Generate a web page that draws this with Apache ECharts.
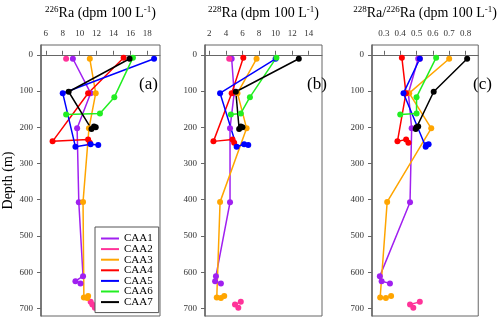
<!DOCTYPE html>
<html>
<head>
<meta charset="utf-8">
<script src="https://cdn.jsdelivr.net/npm/echarts@6/dist/echarts.min.js"></script>
<style>
  html, body { margin: 0; padding: 0; background: #fff; }
  #main { width: 500px; height: 323px; }
</style>
</head>
<body>
<div id="main"></div>
<script>
// stations and colours
var stations = ['CAA1', 'CAA2', 'CAA3', 'CAA4', 'CAA5', 'CAA6', 'CAA7'];
var colors = ['#a020f0', '#ff3399', '#ffa500', '#ff0000', '#0000ff', '#22ee22', '#000000'];

// sample depths (m) for each station, null = gap in the profile
var depCAA1 = [11, 106, 203, 407, 611, 625, 631];
var depCAA2 = [11, null, 682, 689, 698];
var depCAA3 = [11, 106, 203, 406, 670, 671, 666];
var depCAA4 = [8, 106, 239, 234, 243];
var depCAA5 = [11, 106, 254, 247, 249];
var depCAA6 = [8, 117, 162, 165];
var depCAA7 = [11, 102, 205, 198, 200];

// 226Ra (dpm 100 L-1)
var ra226CAA1 = [9.2, 11.3, 9.7, 9.9, 10.4, 9.5, 10.1];
var ra226CAA2 = [8.4, null, 11.3, 11.5, 11.8];
var ra226CAA3 = [11.2, 11.9, 11.1, 10.4, 10.5, 10.9, 11.0];
var ra226CAA4 = [15.2, 11.0, 6.8, 11.0, 11.2];
var ra226CAA5 = [18.8, 8.0, 9.5, 11.3, 12.2];
var ra226CAA6 = [16.3, 14.1, 12.4, 8.4];
var ra226CAA7 = [15.9, 8.7, 11.4, 11.7, 11.9];

// 228Ra (dpm 100 L-1)
var ra228CAA1 = [4.7, 5.0, 4.5, 4.5, 2.8, 2.7, 3.4];
var ra228CAA2 = [4.4, null, 5.8, 5.1, 5.5];
var ra228CAA3 = [7.7, 5.4, 6.5, 3.3, 2.9, 3.4, 3.8];
var ra228CAA4 = [6.1, 4.7, 2.5, 4.8, 5.0];
var ra228CAA5 = [10.0, 3.3, 5.3, 6.2, 6.7];
var ra228CAA6 = [10.1, 6.9, 5.8, 4.6];
var ra228CAA7 = [12.8, 5.2, 5.6, 5.8, 6.0];

// 228Ra/226Ra
var ratioCAA1 = [0.51, 0.45, 0.47, 0.46, 0.275, 0.286, 0.337];
var ratioCAA2 = [0.52, null, 0.52, 0.46, 0.48];
var ratioCAA3 = [0.70, 0.455, 0.59, 0.32, 0.277, 0.312, 0.344];
var ratioCAA4 = [0.41, 0.435, 0.383, 0.436, 0.45];
var ratioCAA5 = [0.52, 0.42, 0.556, 0.574, 0.56];
var ratioCAA6 = [0.62, 0.50, 0.50, 0.40];
var ratioCAA7 = [0.81, 0.605, 0.495, 0.51, 0.50];

// tick labels
var depthTicks = [0, 100, 200, 300, 400, 500, 600, 700];
var ra226Ticks = [6, 8, 10, 12, 14, 16, 18];
var ra228Ticks = [2, 4, 6, 8, 10, 12, 14];
var ratioTicks = [0.3, 0.4, 0.5, 0.6, 0.7, 0.8];

var depths = [depCAA1, depCAA2, depCAA3, depCAA4, depCAA5, depCAA6, depCAA7];
var panels = [
  [ra226CAA1, ra226CAA2, ra226CAA3, ra226CAA4, ra226CAA5, ra226CAA6, ra226CAA7],
  [ra228CAA1, ra228CAA2, ra228CAA3, ra228CAA4, ra228CAA5, ra228CAA6, ra228CAA7],
  [ratioCAA1, ratioCAA2, ratioCAA3, ratioCAA4, ratioCAA5, ratioCAA6, ratioCAA7]
];

var serif = 'Liberation Serif';
var axisColor = '#666';
var richName = {
  n: { fontSize: 14, fontFamily: serif, color: '#000', lineHeight: 16 },
  s: { fontSize: 9, fontFamily: serif, color: '#000', verticalAlign: 'top', lineHeight: 16, padding: [0, 0, 6, 0] }
};

function xAxisOf(idx, min, max, ticks, name) {
  return {
    gridIndex: idx, type: 'value', position: 'top',
    min: min, max: max,
    name: name, nameLocation: 'middle', nameGap: 24,
    nameTextStyle: { rich: richName },
    axisLine: { show: true, lineStyle: { color: axisColor, width: 1 } },
    axisTick: { show: true, inside: false, length: 4, customValues: ticks, lineStyle: { color: axisColor } },
    axisLabel: { fontSize: 9, fontFamily: serif, color: '#333', margin: 7, customValues: ticks },
    splitLine: { show: false }
  };
}

function yAxisOf(idx, withName) {
  return {
    gridIndex: idx, type: 'value', inverse: true,
    min: -27, max: 721,
    name: withName ? 'Depth (m)' : '', nameLocation: 'middle', nameGap: 26,
    nameTextStyle: { fontSize: 14, fontFamily: serif, color: '#000' },
    axisLine: { show: true, lineStyle: { color: axisColor, width: 1.5 } },
    axisTick: { show: true, inside: false, length: 4, customValues: depthTicks, lineStyle: { color: axisColor } },
    axisLabel: { fontSize: 9, fontFamily: serif, color: '#333', margin: 8, customValues: depthTicks },
    splitLine: { show: false }
  };
}

var series = [];
for (var p = 0; p < panels.length; p++) {
  for (var s = 0; s < stations.length; s++) {
    var vals = panels[p][s];
    var data = [];
    for (var i = 0; i < vals.length; i++) {
      if (vals[i] == null || depths[s][i] == null) data.push(['-', '-']);
      else data.push([vals[i], depths[s][i]]);
    }
    series.push({
      name: stations[s], type: 'line',
      xAxisIndex: p, yAxisIndex: p,
      data: data,
      symbol: 'circle', symbolSize: 6,
      color: colors[s],
      lineStyle: { width: 1.5, color: colors[s] },
      itemStyle: { color: colors[s] },
      connectNulls: false,
      z: 2
    });
  }
}

var chart = echarts.init(document.getElementById('main'));
chart.setOption({
  animation: false,
  backgroundColor: '#fff',
  grid: [
    { left: 37, top: 37, width: 123, height: 279, show: true, borderColor: axisColor, borderWidth: 1 },
    { left: 205, top: 37, width: 117, height: 279, show: true, borderColor: axisColor, borderWidth: 1 },
    { left: 372, top: 37, width: 123, height: 279, show: true, borderColor: axisColor, borderWidth: 1 }
  ],
  xAxis: [
    xAxisOf(0, 5.43, 19.5, ra226Ticks, '{s|226}{n|Ra (dpm 100 L}{s|-1}{n|)}'),
    xAxisOf(1, 1.48, 15.6, ra228Ticks, '{s|228}{n|Ra (dpm 100 L}{s|-1}{n|)}'),
    xAxisOf(2, 0.227, 0.878, ratioTicks, '{s|228}{n|Ra/}{s|226}{n|Ra (dpm 100 L}{s|-1}{n|)}')
  ],
  yAxis: [yAxisOf(0, true), yAxisOf(1, false), yAxisOf(2, false)],
  legend: {
    orient: 'vertical', left: 95, top: 227,
    data: stations,
    icon: 'rect', itemWidth: 18, itemHeight: 2, itemGap: -0.4,
    padding: [6, 6, 5, 6],
    borderColor: '#555', borderWidth: 1, backgroundColor: '#fff',
    textStyle: { fontSize: 11, fontFamily: serif, color: '#000', lineHeight: 10 }
  },
  graphic: [
    { type: 'text', left: 139, top: 76, style: { text: '(a)', fontSize: 17, fontFamily: serif, fill: '#000' } },
    { type: 'text', left: 307, top: 76, style: { text: '(b)', fontSize: 17, fontFamily: serif, fill: '#000' } },
    { type: 'text', left: 473, top: 76, style: { text: '(c)', fontSize: 17, fontFamily: serif, fill: '#000' } }
  ],
  series: series
});
</script>
</body>
</html>
